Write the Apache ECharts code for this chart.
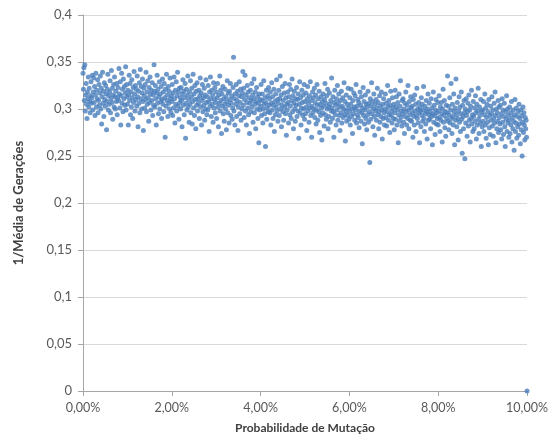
<!DOCTYPE html>
<html>
<head>
<meta charset="utf-8">
<script src="https://cdn.jsdelivr.net/npm/echarts@6/dist/echarts.min.js"></script>
<style>html,body{margin:0;padding:0;background:#fff;}#chart{width:557px;height:439px;}</style>
</head>
<body>
<div id="chart"></div>
<script>
// x: mutation probability sampled on a regular grid from 0 to 10% (step 0.01%)
const xStart = 0;
const xStep = 0.0001;
const xAxisTicks = [0, 0.02, 0.04, 0.06, 0.08, 0.10];
const yAxisTicks = [0, 0.05, 0.1, 0.15, 0.2, 0.25, 0.3, 0.35, 0.4];
const xTitle = 'Probabilidade de Mutação';
const yTitle = '1/Média de Gerações';

// y: 1 / mean number of generations, one value per grid step
const inverseMeanGenerations = [
0.338,0.321,0.344,0.309,0.347,0.298,0.315,0.327,0.305,0.290,0.318,0.311,0.334,0.302,0.322,0.308,0.296,0.314,0.329,0.306,
0.312,0.336,0.299,0.318,0.333,0.307,0.324,0.293,0.315,0.338,0.302,0.320,0.311,0.331,0.296,0.309,0.326,0.304,0.317,0.335,
0.300,0.322,0.284,0.313,0.339,0.306,0.319,0.292,0.328,0.310,0.303,0.325,0.316,0.278,0.308,0.321,0.337,0.299,0.314,0.305,
0.318,0.330,0.296,0.311,0.341,0.307,0.322,0.289,0.315,0.326,0.302,0.334,0.313,0.300,0.319,0.308,0.327,0.294,0.312,0.323,
0.309,0.343,0.316,0.301,0.329,0.283,0.314,0.338,0.306,0.321,0.297,0.332,0.311,0.324,0.304,0.317,0.345,0.299,0.326,0.313,
0.305,0.320,0.283,0.315,0.336,0.309,0.327,0.294,0.318,0.302,0.331,0.312,0.290,0.323,0.307,0.340,0.316,0.298,0.325,0.310,
0.321,0.303,0.335,0.313,0.281,0.319,0.306,0.328,0.296,0.342,0.311,0.324,0.300,0.317,0.332,0.308,0.277,0.322,0.314,0.301,
0.326,0.310,0.339,0.297,0.318,0.305,0.330,0.312,0.287,0.323,0.307,0.334,0.316,0.299,0.320,0.309,0.328,0.293,0.315,0.304,
0.347,0.319,0.302,0.325,0.311,0.283,0.317,0.336,0.306,0.321,0.295,0.313,0.329,0.300,0.316,0.308,0.324,0.290,0.310,0.332,
0.305,0.318,0.297,0.327,0.312,0.270,0.321,0.303,0.337,0.309,0.315,0.292,0.324,0.306,0.319,0.300,0.333,0.311,0.296,0.314,
0.308,0.326,0.293,0.317,0.301,0.334,0.311,0.285,0.320,0.305,0.329,0.298,0.314,0.339,0.303,0.318,0.289,0.322,0.307,0.312,
0.300,0.323,0.309,0.281,0.316,0.331,0.304,0.319,0.294,0.312,0.327,0.269,0.306,0.321,0.299,0.315,0.335,0.302,0.310,0.286,
0.318,0.305,0.330,0.296,0.313,0.322,0.284,0.308,0.337,0.301,0.316,0.293,0.325,0.310,0.279,0.319,0.304,0.328,0.298,0.311,
0.306,0.320,0.290,0.314,0.333,0.302,0.317,0.283,0.309,0.326,0.297,0.312,0.304,0.322,0.288,0.315,0.300,0.331,0.307,0.294,
0.313,0.299,0.325,0.308,0.276,0.318,0.303,0.334,0.311,0.292,0.320,0.305,0.315,0.286,0.328,0.301,0.310,0.323,0.296,0.307,
0.318,0.290,0.312,0.327,0.302,0.281,0.315,0.306,0.335,0.298,0.320,0.309,0.274,0.316,0.303,0.324,0.295,0.311,0.287,0.305,
0.321,0.300,0.313,0.278,0.308,0.330,0.296,0.317,0.304,0.285,0.319,0.310,0.327,0.293,0.306,0.314,0.289,0.301,0.323,0.355,
0.298,0.311,0.283,0.316,0.305,0.326,0.292,0.309,0.319,0.277,0.302,0.314,0.329,0.295,0.307,0.321,0.288,0.313,0.300,0.317,
0.340,0.304,0.322,0.291,0.310,0.336,0.298,0.315,0.283,0.307,0.325,0.301,0.318,0.294,0.312,0.274,0.306,0.320,0.297,0.309,
0.327,0.302,0.315,0.286,0.311,0.332,0.296,0.305,0.318,0.279,0.308,0.323,0.300,0.313,0.290,0.306,0.264,0.316,0.299,0.310,
0.303,0.326,0.293,0.309,0.316,0.285,0.300,0.330,0.305,0.295,0.312,0.260,0.307,0.320,0.289,0.301,0.314,0.297,0.323,0.304,
0.311,0.296,0.318,0.283,0.306,0.328,0.299,0.313,0.290,0.304,0.321,0.276,0.308,0.294,0.316,0.302,0.331,0.298,0.310,0.287,
0.306,0.320,0.293,0.311,0.335,0.300,0.315,0.281,0.304,0.324,0.297,0.309,0.288,0.317,0.302,0.327,0.295,0.312,0.272,0.305,
0.299,0.318,0.307,0.285,0.313,0.326,0.294,0.303,0.321,0.290,0.309,0.332,0.297,0.314,0.279,0.306,0.319,0.300,0.287,0.311,
0.304,0.323,0.292,0.310,0.298,0.316,0.269,0.305,0.329,0.296,0.312,0.283,0.301,0.320,0.307,0.293,0.315,0.300,0.326,0.289,
0.308,0.295,0.317,0.302,0.277,0.311,0.324,0.298,0.306,0.286,0.314,0.301,0.329,0.293,0.309,0.270,0.303,0.318,0.296,0.312,
0.300,0.322,0.291,0.307,0.315,0.284,0.299,0.326,0.304,0.288,0.311,0.297,0.319,0.275,0.305,0.293,0.313,0.301,0.267,0.308,
0.296,0.316,0.303,0.282,0.310,0.327,0.294,0.306,0.289,0.314,0.300,0.321,0.279,0.302,0.292,0.317,0.305,0.286,0.309,0.298,
0.333,0.301,0.290,0.313,0.297,0.270,0.307,0.320,0.294,0.304,0.283,0.311,0.299,0.325,0.288,0.306,0.316,0.293,0.302,0.277,
0.309,0.296,0.319,0.285,0.303,0.312,0.291,0.300,0.328,0.294,0.308,0.266,0.298,0.315,0.287,0.305,0.293,0.322,0.301,0.289,
0.297,0.312,0.283,0.305,0.321,0.292,0.300,0.274,0.309,0.295,0.317,0.302,0.288,0.314,0.299,0.326,0.285,0.303,0.294,0.310,
0.291,0.307,0.280,0.298,0.318,0.304,0.287,0.313,0.296,0.263,0.301,0.323,0.293,0.308,0.284,0.299,0.315,0.290,0.305,0.278,
0.302,0.294,0.319,0.286,0.306,0.297,0.243,0.311,0.289,0.303,0.328,0.295,0.308,0.281,0.300,0.316,0.292,0.272,0.305,0.298,
0.310,0.288,0.301,0.322,0.294,0.307,0.279,0.297,0.314,0.286,0.303,0.292,0.318,0.299,0.268,0.305,0.290,0.311,0.296,0.283,
0.300,0.316,0.291,0.306,0.282,0.297,0.325,0.302,0.288,0.309,0.294,0.275,0.304,0.319,0.293,0.298,0.285,0.312,0.301,0.290,
0.305,0.278,0.296,0.320,0.289,0.302,0.313,0.283,0.299,0.307,0.264,0.294,0.316,0.287,0.303,0.330,0.291,0.298,0.282,0.309,
0.295,0.311,0.286,0.300,0.274,0.306,0.292,0.318,0.297,0.283,0.304,0.290,0.325,0.299,0.279,0.308,0.294,0.288,0.313,0.301,
0.287,0.303,0.296,0.270,0.310,0.292,0.283,0.315,0.298,0.305,0.276,0.293,0.322,0.290,0.300,0.285,0.307,0.296,0.264,0.302,
0.298,0.281,0.312,0.293,0.305,0.287,0.299,0.324,0.290,0.276,0.303,0.295,0.284,0.309,0.297,0.268,0.300,0.316,0.288,0.294,
0.306,0.289,0.297,0.279,0.311,0.292,0.301,0.262,0.295,0.318,0.286,0.304,0.293,0.273,0.299,0.310,0.284,0.296,0.290,0.307,
0.283,0.298,0.314,0.291,0.276,0.302,0.288,0.307,0.295,0.265,0.300,0.321,0.286,0.293,0.309,0.280,0.297,0.271,0.304,0.290,
0.296,0.335,0.287,0.303,0.278,0.294,0.312,0.285,0.299,0.327,0.290,0.274,0.305,0.292,0.283,0.316,0.297,0.262,0.301,0.288,
0.332,0.294,0.281,0.307,0.290,0.267,0.298,0.313,0.286,0.302,0.276,0.295,0.318,0.289,0.253,0.304,0.292,0.279,0.309,0.296,
0.247,0.300,0.285,0.311,0.293,0.271,0.297,0.306,0.282,0.315,0.288,0.299,0.265,0.303,0.290,0.320,0.284,0.294,0.276,0.308,
0.292,0.279,0.301,0.287,0.314,0.296,0.268,0.305,0.283,0.298,0.322,0.289,0.274,0.302,0.293,0.285,0.310,0.260,0.297,0.281,
0.299,0.287,0.308,0.276,0.294,0.316,0.283,0.301,0.269,0.291,0.305,0.286,0.297,0.262,0.310,0.280,0.293,0.273,0.303,0.288,
0.295,0.313,0.282,0.299,0.271,0.290,0.306,0.285,0.318,0.293,0.264,0.300,0.279,0.296,0.287,0.309,0.275,0.302,0.291,0.284,
0.304,0.278,0.295,0.268,0.311,0.286,0.299,0.273,0.292,0.306,0.281,0.260,0.297,0.289,0.314,0.276,0.300,0.285,0.293,0.270,
0.288,0.302,0.274,0.296,0.283,0.308,0.265,0.291,0.279,0.299,0.287,0.256,0.294,0.310,0.276,0.285,0.301,0.269,0.292,0.281,
0.297,0.272,0.305,0.284,0.290,0.263,0.299,0.278,0.293,0.250,0.286,0.302,0.275,0.296,0.283,0.267,0.291,0.279,0.288,0.270,
0
];

const points = inverseMeanGenerations.map((y, i) => [xStart + i * xStep, y]);

const chart = echarts.init(document.getElementById('chart'), null, {renderer: 'canvas'});
const fontFam = 'Lato, "Open Sans", sans-serif';
chart.setOption({
  animation: false,
  backgroundColor: '#ffffff',
  grid: {left: 83, right: 30, top: 15, bottom: 47, containLabel: false},
  xAxis: {
    type: 'value',
    min: xAxisTicks[0],
    max: xAxisTicks[xAxisTicks.length - 1],
    interval: xAxisTicks[1] - xAxisTicks[0],
    name: xTitle,
    nameLocation: 'middle',
    nameGap: 31,
    nameTextStyle: {fontFamily: fontFam, fontSize: 12, fontWeight: 'bold', color: '#404040'},
    axisLine: {show: true, lineStyle: {color: '#a6a6a6', width: 1}},
    axisTick: {show: true, length: 5, inside: false, lineStyle: {color: '#a6a6a6'}},
    axisLabel: {
      fontFamily: fontFam, fontSize: 12.5, color: '#595959', margin: 10,
      formatter: v => (v * 100).toFixed(2).replace('.', ',') + '%'
    },
    splitLine: {show: false}
  },
  yAxis: {
    type: 'value',
    min: yAxisTicks[0],
    max: yAxisTicks[yAxisTicks.length - 1],
    interval: yAxisTicks[1] - yAxisTicks[0],
    name: yTitle,
    nameLocation: 'middle',
    nameGap: 58,
    nameTextStyle: {fontFamily: fontFam, fontSize: 13, fontWeight: 'bold', color: '#404040'},
    axisLine: {show: true, lineStyle: {color: '#a6a6a6', width: 1}},
    axisTick: {show: true, length: 5, inside: false, lineStyle: {color: '#a6a6a6'}},
    axisLabel: {
      fontFamily: fontFam, fontSize: 13, color: '#595959', margin: 11,
      formatter: v => String(Number(v.toFixed(2))).replace('.', ',')
    },
    splitLine: {show: true, lineStyle: {color: '#d9d9d9', width: 1}}
  },
  series: [{
    type: 'scatter',
    data: points,
    symbol: 'circle',
    symbolSize: 5,
    itemStyle: {color: '#4a7ebb'},
    emphasis: {disabled: true}
  }]
});
</script>
</body>
</html>
